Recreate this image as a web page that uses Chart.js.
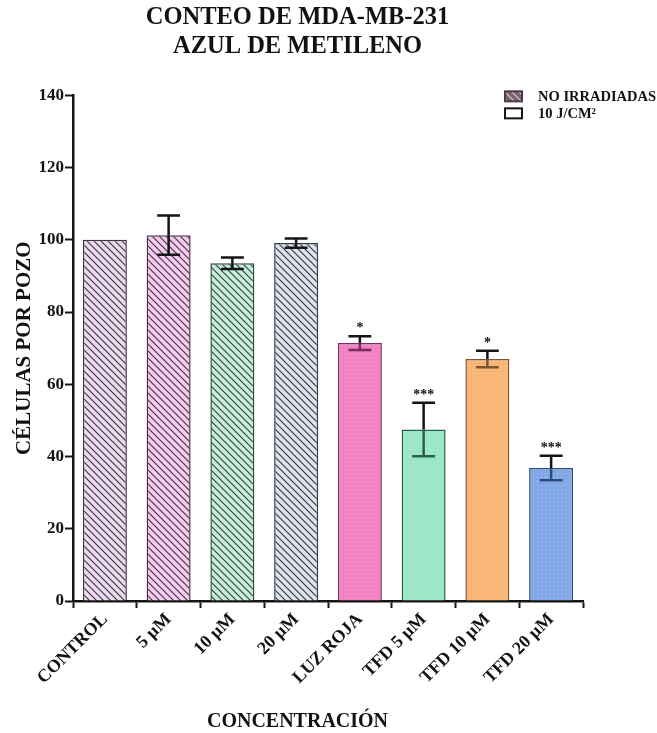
<!DOCTYPE html>
<html>
<head>
<meta charset="utf-8">
<script src="https://cdn.jsdelivr.net/npm/chart.js@4.4.0/dist/chart.umd.min.js"></script>
<style>
    html, body { margin: 0; padding: 0; background: #fff; }
    #wrap { width: 657px; height: 733px; }
</style>
</head>
<body>
<div id="wrap"><canvas id="myChart" width="657" height="733"></canvas></div>
<script>
// datos del conteo
const labels = ['CONTROL', '5 µM', '10 µM', '20 µM', 'LUZ ROJA', 'TFD 5 µM', 'TFD 10 µM', 'TFD 20 µM'];
const noIrradiadas = [100, 101.3, 93.5, 99.1, null, null, null, null];
const irradiadas = [null, null, null, null, 71.4, 47.5, 67.0, 36.8];
const errores = [0, 5.4, 1.6, 1.3, 1.9, 7.4, 2.3, 3.4];
const significancia = ['', '', '', '', '*', '***', '*', '***'];
const tituloX = 'CONCENTRACIÓN';

const rellenos = ['#ecdaef', '#f3cdee', '#c9eddc', '#dfe3eb', '#f280c2', '#9ae6c9', '#f8b574', '#80a8e6'];
const bordes = ['#3c3642', '#4c3249', '#2f4b41', '#363a46', '#7a2a5c', '#2d5e4c', '#7c5532', '#2f4a7a'];

const FONT = "'Liberation Serif', 'DejaVu Serif', serif";
const TEXTO = '#121212';

const ctxMain = document.getElementById('myChart').getContext('2d');

// rayado diagonal para las no irradiadas
function hatch(bg, line) {
    const c = document.createElement('canvas');
    c.width = 7;
    c.height = 7;
    const g = c.getContext('2d');
    g.fillStyle = bg;
    g.fillRect(0, 0, 7, 7);
    g.strokeStyle = line;
    g.lineWidth = 1.2;
    g.beginPath();
    g.moveTo(-1, -1); g.lineTo(8, 8);
    g.moveTo(-1, 6); g.lineTo(1, 8);
    g.moveTo(6, -1); g.lineTo(8, 1);
    g.stroke();
    return ctxMain.createPattern(c, 'repeat');
}

// punteado suave para las irradiadas
function dots(bg) {
    const c = document.createElement('canvas');
    c.width = 4;
    c.height = 4;
    const g = c.getContext('2d');
    g.fillStyle = bg;
    g.fillRect(0, 0, 4, 4);
    g.fillStyle = 'rgba(255,255,255,0.35)';
    g.fillRect(1, 1, 1, 1);
    return ctxMain.createPattern(c, 'repeat');
}

const fills = rellenos.map((col, i) => (i < 4 ? hatch(col, bordes[i]) : dots(col)));

// barras de error y asteriscos
const errorBars = {
    id: 'errorBars',
    afterDatasetsDraw(chart) {
        const { ctx, scales: { y } } = chart;
        chart.data.datasets.forEach((ds, di) => {
            const meta = chart.getDatasetMeta(di);
            meta.data.forEach((bar, i) => {
                const v = ds.data[i];
                if (v === null || v === undefined) return;
                const x = bar.x;
                const cap = bar.width * 0.26;
                const top = y.getPixelForValue(v + errores[i]);
                const mid = y.getPixelForValue(v);
                const bot = y.getPixelForValue(v - errores[i]);
                ctx.save();
                ctx.lineWidth = 2.5;
                if (errores[i] > 0) {
                    ctx.strokeStyle = '#151515';
                    ctx.beginPath();
                    ctx.moveTo(x, mid); ctx.lineTo(x, top);
                    ctx.moveTo(x - cap, top); ctx.lineTo(x + cap, top);
                    ctx.stroke();
                    ctx.strokeStyle = i < 4 ? '#151515' : bordes[i];
                    ctx.beginPath();
                    ctx.moveTo(x, mid); ctx.lineTo(x, bot);
                    ctx.moveTo(x - cap, bot); ctx.lineTo(x + cap, bot);
                    ctx.stroke();
                }
                if (significancia[i]) {
                    ctx.fillStyle = TEXTO;
                    ctx.font = 'bold 14px ' + FONT;
                    ctx.textAlign = 'center';
                    ctx.textBaseline = 'alphabetic';
                    ctx.fillText(significancia[i], x, top - 4);
                }
                ctx.restore();
            });
        });
    },
};

// leyenda y título del eje x
const extras = {
    id: 'extras',
    afterDraw(chart) {
        const { ctx, chartArea } = chart;
        ctx.save();
        const bx = chartArea.right - 78;
        const muestras = [hatch('#7b6372', '#d9c9d6'), '#ffffff'];
        chart.data.datasets.forEach((ds, k) => {
            const yy = chartArea.top + 1 + k * 17;
            ctx.fillStyle = muestras[k];
            ctx.fillRect(bx, yy - 5, 17, 10);
            ctx.strokeStyle = k === 0 ? '#4a3844' : '#151515';
            ctx.lineWidth = 2;
            ctx.strokeRect(bx, yy - 5, 17, 10);
            ctx.fillStyle = TEXTO;
            ctx.font = 'bold 14.5px ' + FONT;
            ctx.textAlign = 'left';
            ctx.textBaseline = 'middle';
            ctx.fillText(ds.label, bx + 33, yy + 1);
        });

        const tb = chart.titleBlock;
        ctx.fillStyle = TEXTO;
        ctx.font = 'bold 20px ' + FONT;
        ctx.textAlign = 'center';
        ctx.textBaseline = 'middle';
        ctx.fillText(tituloX, (tb.left + tb.right) / 2, chart.height - 11);
        ctx.restore();
    },
};

const data = {
    labels: labels,
    datasets: [
        {
            label: 'NO IRRADIADAS',
            data: noIrradiadas,
            backgroundColor: fills,
            borderColor: bordes,
            borderWidth: 1.5,
            barPercentage: 0.69,
            categoryPercentage: 1,
            skipNull: true,
        },
        {
            label: '10 J/CM²',
            data: irradiadas,
            backgroundColor: fills,
            borderColor: bordes,
            borderWidth: 1.5,
            barPercentage: 0.69,
            categoryPercentage: 1,
            skipNull: true,
        },
    ],
};

const options = {
    responsive: false,
    maintainAspectRatio: false,
    animation: false,
    layout: { padding: { left: 12, right: 74, top: 4, bottom: 0 } },
    plugins: {
        legend: { display: false },
        tooltip: { enabled: false },
        title: {
            display: true,
            text: ['CONTEO DE MDA-MB-231', 'AZUL DE METILENO'],
            color: TEXTO,
            font: { family: FONT, size: 24.5, weight: 'bold', lineHeight: 1.15 },
            padding: { top: 0, bottom: 35 },
        },
    },
    scales: {
        x: {
            afterFit(scale) { scale.height = 132; },
            border: { display: true, color: '#151515', width: 2.5 },
            grid: { drawOnChartArea: false, drawTicks: true, tickLength: 7, tickWidth: 2, tickColor: '#151515' },
            ticks: {
                color: TEXTO,
                font: { family: FONT, size: 18, weight: 'bold' },
                minRotation: 45,
                maxRotation: 45,
                padding: 1,
            },
        },
        y: {
            min: 0,
            max: 140,
            afterFit(scale) { scale.width = 61; },
            border: { display: true, color: '#151515', width: 2.5 },
            grid: { drawOnChartArea: false, drawTicks: true, tickLength: 8, tickWidth: 2, tickColor: '#151515' },
            ticks: {
                stepSize: 20,
                color: TEXTO,
                font: { family: FONT, size: 17, weight: 'bold' },
                padding: 1,
            },
            title: {
                display: true,
                text: 'CÉLULAS POR POZO',
                color: TEXTO,
                font: { family: FONT, size: 21, weight: 'bold' },
                padding: 0,
            },
        },
    },
};

new Chart(ctxMain, {
    type: 'bar',
    data: data,
    options: options,
    plugins: [errorBars, extras],
});
</script>
</body>
</html>
